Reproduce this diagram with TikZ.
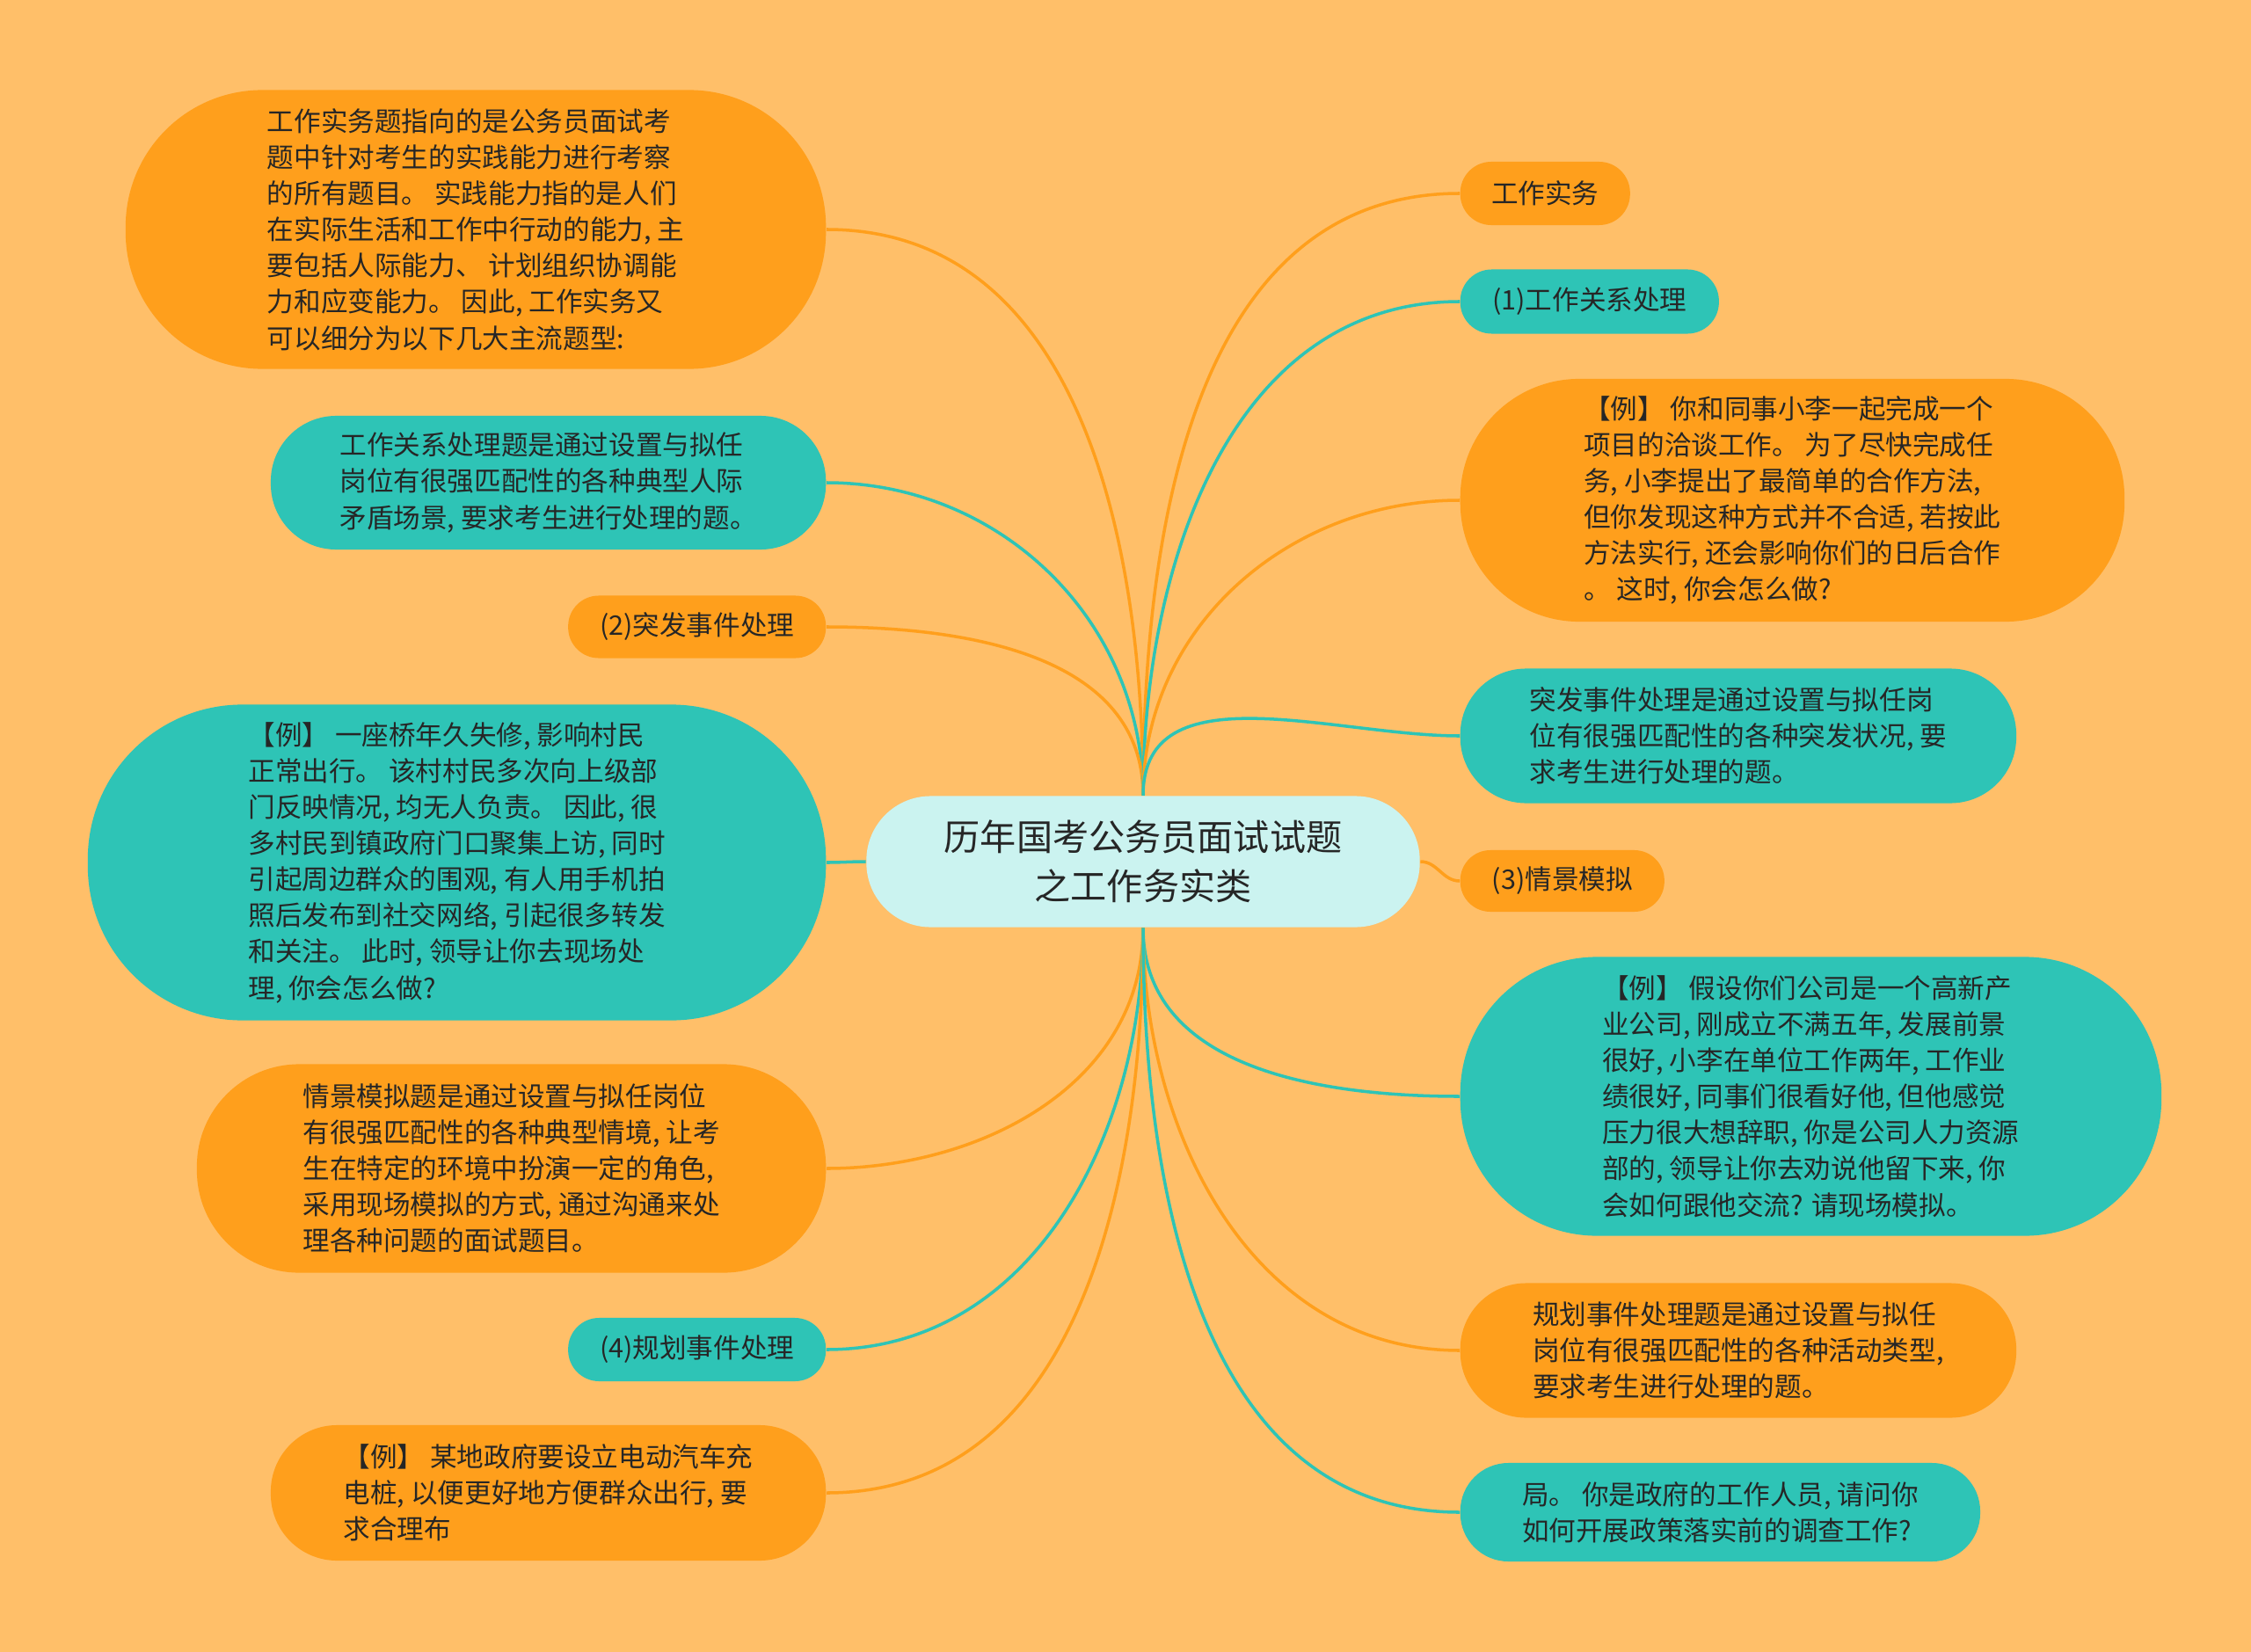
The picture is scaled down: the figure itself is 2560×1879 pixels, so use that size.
\documentclass[tikz,border=0pt]{standalone}
\usepackage{fontspec}
\setmainfont{Noto Sans CJK SC}
\usepackage{xcolor}
\definecolor{mango}{HTML}{FF9F1C}
\definecolor{lagoon}{HTML}{2EC4B6}
\definecolor{mint}{HTML}{CBF3F0}
\definecolor{peach}{HTML}{FFBF69}
\definecolor{ink}{HTML}{262626}
\usepackage{tikz}
\usetikzlibrary{positioning}

\begin{document}
\begin{tikzpicture}[x=0.01cm,y=-0.01cm,
  leaf/.style={rectangle,inner sep=0pt,align=left,text=ink,font=\fontsize{8.7}{11.7}\selectfont},
  leafo/.style 2 args={leaf,fill=mango,minimum width=#1,minimum height=#2,rounded corners=0.49*#2},
  leaft/.style 2 args={leaf,fill=lagoon,minimum width=#1,minimum height=#2,rounded corners=0.49*#2},
  linko/.style={draw=mango,line width=1pt},
  linkt/.style={draw=lagoon,line width=1pt}]
\fill[peach] (0,0) rectangle (2560,1879);
\node[rectangle,fill=mint,minimum width=6.29cm,minimum height=1.49cm,rounded corners=0.73cm,inner sep=0pt,align=center,text=ink,font=\fontsize{11.7}{15.8}\selectfont] (hub) at (1300,980) {历年国考公务员面试试题\\之工作务实类};

\node[leafo={7.96cm}{3.17cm},anchor=east] (intro) at (940,261) {工作实务题指向的是公务员面试考\\题中针对考生的实践能力进行考察\\的所有题目。 实践能力指的是人们\\在实际生活和工作中行动的能力, 主\\要包括人际能力、 计划组织协调能\\力和应变能力。 因此, 工作实务又\\可以细分为以下几大主流题型:};
\node[leaft={6.31cm}{1.52cm},anchor=east] (relnote) at (940,549) {工作关系处理题是通过设置与拟任\\岗位有很强匹配性的各种典型人际\\矛盾场景, 要求考生进行处理的题。};
\node[leafo={2.93cm}{0.71cm},anchor=east] (emerg) at (940,713) {(2)突发事件处理};
\node[leaft={8.39cm}{3.59cm},anchor=east] (emergex) at (940,981) {【例】 一座桥年久失修, 影响村民\\正常出行。 该村村民多次向上级部\\门反映情况, 均无人负责。 因此, 很\\多村民到镇政府门口聚集上访, 同时\\引起周边群众的围观, 有人用手机拍\\照后发布到社交网络, 引起很多转发\\和关注。 此时, 领导让你去现场处\\理, 你会怎么做?};
\node[leafo={7.15cm}{2.37cm},anchor=east] (scenenote) at (940,1329) {情景模拟题是通过设置与拟任岗位\\有很强匹配性的各种典型情境, 让考\\生在特定的环境中扮演一定的角色,\\采用现场模拟的方式, 通过沟通来处\\理各种问题的面试题目。};
\node[leaft={2.93cm}{0.72cm},anchor=east] (plan) at (940,1535) {(4)规划事件处理};
\node[leafo={6.31cm}{1.54cm},anchor=east] (planex) at (940,1698) {【例】 某地政府要设立电动汽车充\\电桩, 以便更好地方便群众出行, 要\\求合理布};

\node[leafo={1.93cm}{0.72cm},anchor=west] (work) at (1660,220) {工作实务};
\node[leaft={2.94cm}{0.73cm},anchor=west] (rel) at (1660,343) {(1)工作关系处理};
\node[leafo={7.55cm}{2.76cm},anchor=west] (relex) at (1660,569) {【例】 你和同事小李一起完成一个\\项目的洽谈工作。 为了尽快完成任\\务, 小李提出了最简单的合作方法,\\但你发现这种方式并不合适, 若按此\\方法实行, 还会影响你们的日后合作\\。 这时, 你会怎么做?};
\node[leaft={6.32cm}{1.53cm},anchor=west] (emergnote) at (1660,837) {突发事件处理是通过设置与拟任岗\\位有很强匹配性的各种突发状况, 要\\求考生进行处理的题。};
\node[leafo={2.32cm}{0.70cm},anchor=west] (scene) at (1660,1002) {(3)情景模拟};
\node[leaft={7.97cm}{3.17cm},anchor=west] (sceneex) at (1660,1247) {【例】 假设你们公司是一个高新产\\业公司, 刚成立不满五年, 发展前景\\很好, 小李在单位工作两年, 工作业\\绩很好, 同事们很看好他, 但他感觉\\压力很大想辞职, 你是公司人力资源\\部的, 领导让你去劝说他留下来, 你\\会如何跟他交流? 请现场模拟。};
\node[leafo={6.32cm}{1.53cm},anchor=west] (plannote) at (1660,1536) {规划事件处理题是通过设置与拟任\\岗位有很强匹配性的各种活动类型,\\要求考生进行处理的题。};
\node[leaft={5.91cm}{1.12cm},anchor=west] (planend) at (1660,1720) {局。 你是政府的工作人员, 请问你\\如何开展政策落实前的调查工作?};

\draw[linko] (hub.north) to[out=90,in=0] (intro.east);
\draw[linkt] (hub.north) to[out=90,in=0] (relnote.east);
\draw[linko] (hub.north) to[out=90,in=0] (emerg.east);
\draw[linkt] (hub.west) to[out=180,in=0] (emergex.east);
\draw[linko] (hub.south) to[out=-90,in=0] (scenenote.east);
\draw[linkt] (hub.south) to[out=-90,in=0] (plan.east);
\draw[linko] (hub.south) to[out=-90,in=0] (planex.east);
\draw[linko] (hub.north) to[out=90,in=180] (work.west);
\draw[linkt] (hub.north) to[out=90,in=180] (rel.west);
\draw[linko] (hub.north) to[out=90,in=180] (relex.west);
\draw[linkt] (hub.north) to[out=90,in=180] (emergnote.west);
\draw[linko] (hub.east) to[out=0,in=180] (scene.west);
\draw[linkt] (hub.south) to[out=-90,in=180] (sceneex.west);
\draw[linko] (hub.south) to[out=-90,in=180] (plannote.west);
\draw[linkt] (hub.south) to[out=-90,in=180] (planend.west);
\end{tikzpicture}
\end{document}
